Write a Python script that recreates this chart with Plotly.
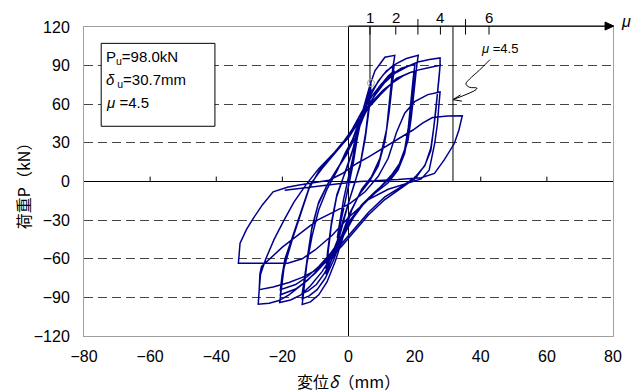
import plotly.graph_objects as go

# ---------------- data ----------------
# hysteresis path as (displacement mm, load kN) pairs, split by loading stage
stage0 = [(0, 0), (1.2, 18), (2.4, 34), (3.4, 46), (2.8, 36), (1.5, 15), (0.3, 0), (-1.0, -16), (-2.2, -31),
          (-3.4, -44), (-2.8, -34), (-1.5, -14), (-0.3, 0)]

stage1 = [(1.0, 14), (2.5, 32), (4.0, 50), (5.5, 66), (6.8, 76), (6.3, 62), (5.2, 38), (3.6, 14), (1.8, -2),
          (0.3, -14), (-1.2, -28), (-3.0, -45), (-5.0, -60), (-6.8, -72), (-6.3, -58), (-5.2, -34), (-3.6, -12),
          (-1.8, 2), (-0.3, 12),
          (1.2, 24), (3.0, 42), (5.0, 60), (6.8, 72), (6.3, 58), (5.1, 34), (3.5, 12), (1.6, -3), (0.0, -16),
          (-1.6, -30), (-3.4, -46), (-5.2, -58), (-6.8, -68), (-6.3, -54), (-5.1, -31), (-3.5, -10), (-1.6, 3),
          (0.0, 14)]

stage2 = [(2, 30), (4, 52), (6.5, 75), (8, 86), (11, 96.5), (14, 98), (13.4, 88), (12.6, 66), (11.5, 40),
          (9.5, 18), (7, 4), (4, -6), (1, -22), (-1.5, -42), (-4, -62), (-6.5, -78), (-9, -88), (-11.5, -93.5),
          (-14, -95.5), (-13.4, -82), (-12.6, -64), (-11, -42), (-9, -22), (-6.5, -6), (-3.5, 8), (-1, 22),
          (1.5, 34), (4, 50), (6.5, 66), (9, 78), (11.5, 86), (13.8, 90), (13.2, 79), (12.4, 58), (11.2, 34),
          (9.2, 14), (6.5, 1), (3.5, -9), (0.5, -24), (-2, -43), (-4.5, -61), (-7, -75), (-9.5, -84), (-12, -89),
          (-14, -91), (-13.4, -80), (-12.5, -60), (-11.2, -38), (-9.2, -18), (-6.5, -3), (-3.5, 9), (-0.5, 22),
          (2, 34), (4.5, 50), (7, 63), (9.5, 74), (12, 82), (13.8, 86), (13.2, 75), (12.3, 54), (11, 31),
          (9, 12), (6.3, 0), (3.3, -10), (0.3, -25), (-2.2, -43), (-4.7, -59), (-7.2, -71), (-9.7, -80),
          (-12.2, -85), (-14, -87), (-13.4, -76), (-12.4, -57), (-11.1, -36), (-9, -16), (-6.3, -2), (-3.3, 10),
          (-0.3, 22)]

stage3 = [(2, 38), (4.5, 56), (7.5, 72), (10.5, 83), (13, 89), (14.5, 91.5), (17.5, 95.5), (21.1, 98),
          (20.6, 89), (19.8, 70), (19, 50), (18, 32), (16, 16), (13, 5), (9, -6), (5, -16), (1.5, -28),
          (-1.5, -42), (-4.5, -56), (-8, -70), (-11.5, -81), (-14.4, -88), (-17.5, -92), (-20.8, -94),
          (-20.3, -82), (-19.5, -67), (-17, -45), (-14.5, -25), (-12, -6), (-9, 8), (-5, 20), (-1.5, 31), (1, 40),
          (4, 54), (7, 66), (10, 76), (13, 83), (16, 88), (18, 89.5), (20.1, 91), (19.6, 81), (18.9, 62),
          (18.1, 42), (17, 25), (15, 11), (12, 1), (8, -8), (4, -18), (0.5, -30), (-2.5, -44), (-5.5, -57),
          (-9, -68), (-12.5, -77), (-16, -83.5), (-20.6, -88),
          (-20.1, -77), (-19.3, -63), (-16.8, -42), (-14.2, -22), (-11.8, -4), (-8.5, 9), (-4.5, 21), (-1, 32),
          (1.5, 42), (4.5, 53), (7.5, 63), (10.5, 71), (13.5, 77), (16.5, 82), (18.5, 84.5), (20.3, 86),
          (19.8, 76), (19, 58), (18.2, 39), (17, 22), (15, 9), (12, -1), (8, -9), (4, -19), (0.5, -31),
          (-2.5, -45), (-5.5, -56), (-9, -66), (-12.5, -74), (-16, -80), (-20.6, -84),
          (-20.1, -73), (-19.2, -60), (-16.6, -40), (-14, -20), (-11.5, -2), (-8, 10), (-4, 22), (-0.5, 33),
          (2, 43)]

stage4 = [(5, 55), (8, 67), (11, 77), (14, 84), (18, 89.5), (21, 92.8), (24.5, 94.8), (27.7, 96),
          (27.7, 90), (27.1, 72), (26.4, 55), (25.6, 38), (24.9, 24), (23, 12), (20, 3), (16, -4), (11, -12),
          (6, -24), (2, -36), (-2, -48), (-6, -60), (-10, -71), (-14, -80), (-18, -88), (-21, -92.5),
          (-24, -94.5), (-27.3, -95.3),
          (-27, -84), (-26.6, -72), (-25, -60), (-22.5, -45), (-19.5, -30), (-16.5, -16), (-13, -3), (-9, 10),
          (-4.5, 22), (0, 34), (3, 46),
          (6, 57), (9.5, 67), (12.5, 75), (14.5, 80), (18, 84), (21, 86.5), (24.5, 88.5), (27.7, 90.2),
          (27.3, 78), (26.6, 60), (25.8, 42), (24.9, 26), (23.2, 13), (20.4, 3), (16, -5), (11, -14), (6, -26),
          (2, -38), (-2, -50), (-6, -61), (-10, -69), (-14, -74.5), (-18, -78.5), (-22.8, -82), (-25.3, -83),
          (-27, -84),
          (-26.8, -72), (-26.3, -66), (-20, -51), (-14, -39), (-9.4, -30), (-4, -23), (0.5, -17), (5, -8),
          (9, 4), (12, 18), (14.5, 38), (17, 53), (20, 62), (24, 67.5), (27.7, 69.5),
          (27.3, 58), (26.9, 45), (26.1, 30), (25.2, 18), (24.4, 8.8), (22, 2), (18, -1)]

stage5 = [(12, -6), (6, -14), (0, -28), (-5, -42), (-10, -53), (-14, -60), (-18.4, -63.5), (-22, -63.5),
          (-26.3, -63.5), (-30, -63.6), (-33.3, -63.5), (-32.8, -48), (-30.8, -37), (-28.8, -28.6), (-26, -18),
          (-22.8, -8), (-18.5, -4.5), (-14.9, -2.8), (-10, -0.8), (-5.9, 1), (-2, 6), (2.5, 14), (6, 19),
          (10, 25), (15, 33), (19.5, 40), (22.5, 45.5), (25.4, 49.7), (30, 50.8), (34.4, 51), (33.4, 40),
          (32, 29.5), (29, 17), (26, 6.3), (22, 3), (15, 1.5), (8, 0.5), (3.5, 0), (-3, -1.8), (-10, -4),
          (-19.3, -6.8)]

path = stage0 + stage1 + stage2 + stage3 + stage4 + stage5
disp = [p[0] for p in path]
load = [p[1] for p in path]

x_ticks = [-80, -60, -40, -20, 0, 20, 40, 60, 80]
y_ticks = [-120, -90, -60, -30, 0, 30, 60, 90, 120]

# ductility axis drawn above the plot
mu_values = [1, 2, 3, 4, 5, 6]
mu_disp = [6.5, 14.3, 21.0, 27.8, 35.4, 42.5]
mu_labeled = ["1", "2", "", "4", "", "6"]
yield_disp, yield_load = 6.8, 76.5
ultimate_disp = 31.6

info_lines = ["P<sub>u</sub>=98.0kN", "<i>δ</i><sub> u</sub>=30.7mm", "<i>μ</i> =4.5"]
info_y = [96.4, 78.6, 61.6]

callout_x = [42.8, 39.6, 36.6, 35.5, 36.6, 38.8, 38.6, 31.6]
callout_y = [94.7, 86.5, 79.5, 75.8, 73.2, 72.6, 71.4, 63.6]
arrow_x = [33.9, 31.6, 34.3]
arrow_y = [67.3, 63.6, 62.4]

# ---------------- figure ----------------
NAVY = "#00008c"
FONT = "Liberation Sans, Arial, sans-serif"
CJK = "Noto Sans CJK JP"

fig = go.Figure()
fig.add_trace(go.Scatter(x=disp, y=load, mode="lines",
                         line=dict(color=NAVY, width=1.5), hoverinfo="skip"))
fig.add_trace(go.Scatter(x=[yield_disp], y=[yield_load], mode="markers",
                         marker=dict(symbol="circle-open", size=7, color="#aaaaaa", line=dict(width=1)),
                         hoverinfo="skip"))
fig.add_trace(go.Scatter(x=callout_x, y=callout_y, mode="lines",
                         line=dict(color="black", width=1, shape="spline", smoothing=1.0),
                         hoverinfo="skip", cliponaxis=False))
fig.add_trace(go.Scatter(x=arrow_x, y=arrow_y, mode="lines",
                         line=dict(color="black", width=1), hoverinfo="skip"))

shapes = []
PLOT_H = 309.0
top = 1.003
shapes.append(dict(type="line", xref="x", yref="paper", x0=0, x1=0, y0=0, y1=top,
                   line=dict(color="black", width=1), layer="between"))
shapes.append(dict(type="line", xref="x", yref="paper", x0=0, x1=80, y0=top, y1=top,
                   line=dict(color="black", width=1.2), layer="above"))
shapes.append(dict(type="path", xref="paper", yref="paper",
                   path=f"M 0.985,{top + 4 / PLOT_H} L 1.0015,{top} L 0.985,{top - 4 / PLOT_H} Z",
                   fillcolor="black", line=dict(color="black", width=1)))
for m, xd, lab in zip(mu_values, mu_disp, mu_labeled):
    y_hi = top if lab else top + 7 / PLOT_H
    shapes.append(dict(type="line", xref="x", yref="paper", x0=xd, x1=xd, y0=top - 8.5 / PLOT_H, y1=y_hi,
                       line=dict(color="black", width=1)))
shapes.append(dict(type="line", xref="x", yref="y", x0=mu_disp[0], x1=mu_disp[0], y0=yield_load, y1=120.7,
                   line=dict(color="black", width=1), layer="between"))
shapes.append(dict(type="line", xref="x", yref="y", x0=ultimate_disp, x1=ultimate_disp, y0=0, y1=120.7,
                   line=dict(color="black", width=1), layer="between"))
for xv in x_ticks:
    if xv not in (-80, 0, 80):
        shapes.append(dict(type="line", xref="x", yref="y", x0=xv, x1=xv, y0=0, y1=3.8,
                           line=dict(color="black", width=1), layer="between"))
shapes.append(dict(type="rect", xref="x", yref="y", x0=-74.8, x1=-40.4, y0=42.9, y1=107.3,
                   fillcolor="white", line=dict(color="black", width=1), layer="above"))

annotations = []
for txt, yv in zip(info_lines, info_y):
    annotations.append(dict(x=-73.9, y=yv, xref="x", yref="y", text=txt, showarrow=False,
                            xanchor="left", yanchor="middle", font=dict(family=FONT, size=15, color="black")))
for xd, lab in zip(mu_disp, mu_labeled):
    if lab:
        annotations.append(dict(x=xd, y=top + 9 / PLOT_H, xref="x", yref="paper", text=lab, showarrow=False,
                                xanchor="center", yanchor="middle", font=dict(family=FONT, size=15, color="black")))
annotations.append(dict(x=1.012, y=top + 5 / PLOT_H, xref="paper", yref="paper", text="<i>μ</i>", showarrow=False,
                        xanchor="left", yanchor="middle", font=dict(family=FONT, size=16, color="black")))
annotations.append(dict(x=45.8, y=103.4, xref="x", yref="y", text="<i>μ</i> =4.5", showarrow=False,
                        xanchor="center", yanchor="middle", font=dict(family=FONT, size=13, color="black")))
annotations.append(dict(x=-0.116, y=0.5, xref="paper", yref="paper", text="荷重P（kN）", showarrow=False,
                        textangle=-90, xanchor="center", yanchor="middle",
                        font=dict(family=CJK, size=16, color="black")))
annotations.append(dict(x=0.5, y=-0.145, xref="paper", yref="paper", text="変位<i>δ</i>（mm）", showarrow=False,
                        xanchor="center", yanchor="middle",
                        font=dict(family=CJK, size=16, color="black")))

fig.update_layout(
    width=634, height=392,
    margin=dict(l=84, r=14, t=27, b=56),
    paper_bgcolor="white", plot_bgcolor="white",
    showlegend=False,
    shapes=shapes, annotations=annotations,
    xaxis=dict(range=[-80, 80], tickvals=x_ticks, showgrid=False, zeroline=False,
               showline=True, linecolor="#a0a0a0", linewidth=1, mirror=True, ticks="",
               ticklabelstandoff=6, tickfont=dict(family=FONT, size=16, color="black")),
    yaxis=dict(range=[-120, 120], tickvals=y_ticks, showgrid=True, gridcolor="#444444",
               griddash="9px,5px", gridwidth=1, zeroline=True, zerolinecolor="black", zerolinewidth=1,
               showline=True, linecolor="#a0a0a0", linewidth=1, mirror=True, ticks="",
               ticklabelstandoff=10, tickfont=dict(family=FONT, size=16, color="black")),
)

fig.write_html("out.html")
